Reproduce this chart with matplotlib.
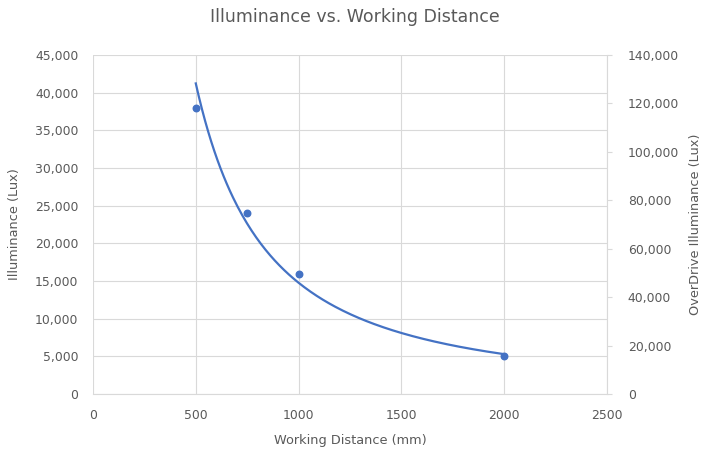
import numpy as np
import matplotlib.pyplot as plt
from matplotlib.ticker import FuncFormatter, MultipleLocator

plt.rcParams['font.family'] = ['DejaVu Sans']

# data
distance = [500, 750, 1000, 2000]
illuminance = [38000, 24000, 16000, 5000]

title = 'Illuminance vs. Working Distance'
xlabel = 'Working Distance (mm)'
ylabel = 'Illuminance (Lux)'
ylabel2 = 'OverDrive Illuminance (Lux)'

blue = '#4472C4'
grey = '#595959'
grid = '#D9D9D9'

# power trendline (like Excel)
b, lna = np.polyfit(np.log(distance), np.log(illuminance), 1)
xs = np.linspace(min(distance), max(distance), 200)
ys = np.exp(lna) * xs ** b

fig = plt.figure(figsize=(7.04, 4.55), dpi=100)
ax = fig.add_axes([0.1321, 0.134, 0.730, 0.745])

ax.plot(xs, ys, color=blue, lw=1.6, zorder=3)
ax.scatter(distance, illuminance, color=blue, s=22, zorder=4)

fmt = FuncFormatter(lambda v, p: f'{int(v):,}')
ax.set_xlim(0, 2500)
ax.set_ylim(0, 45000)
ax.xaxis.set_major_locator(MultipleLocator(500))
ax.yaxis.set_major_locator(MultipleLocator(5000))
ax.yaxis.set_major_formatter(fmt)
ax.grid(True, color=grid, lw=0.8)
ax.set_axisbelow(True)
for s in ['top', 'right', 'left']:
    ax.spines[s].set_visible(False)
ax.spines['bottom'].set_color(grid)
ax.tick_params(axis='y', length=0, colors=grey, labelsize=8.9, pad=10.5)
ax.tick_params(axis='x', length=0, colors=grey, labelsize=8.9, pad=10.5)

ax.set_xlabel(xlabel, color=grey, fontsize=9.3, va='center')
ax.xaxis.set_label_coords(0.5, -0.136)
ax.set_ylabel(ylabel, color=grey, fontsize=9.3, va='center')
ax.yaxis.set_label_coords(-0.152, 0.5)
fig.text(355 / 704, 1 - 17 / 455, title, color=grey, fontsize=12.5,
         ha='center', va='center')

ax2 = ax.twinx()
ax2.set_ylim(0, 140000)
ax2.yaxis.set_major_locator(MultipleLocator(20000))
ax2.yaxis.set_major_formatter(fmt)
for s in ['top', 'left', 'bottom']:
    ax2.spines[s].set_visible(False)
ax2.spines['right'].set_color(grid)
ax2.tick_params(length=3.6, color=grid, colors=grey, labelsize=8.9, pad=11.5)
ax2.tick_params(axis='y', color=grid)
ax2.set_ylabel(ylabel2, color=grey, fontsize=9.3, va='center')
ax2.yaxis.set_label_coords(1.172, 0.5)

fig.savefig('out.png', dpi=100)
